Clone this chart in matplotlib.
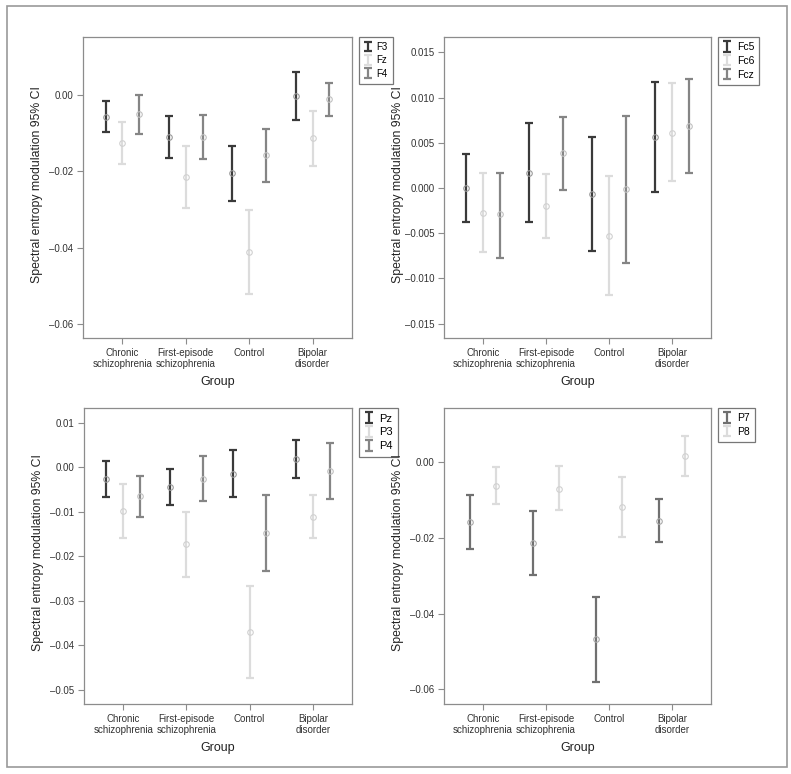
import matplotlib
matplotlib.use('Agg')
import matplotlib.pyplot as plt
from matplotlib.patches import Rectangle
from matplotlib import font_manager

# fuente angosta para los ticks si existe
nombres = {f.name for f in font_manager.fontManager.ttflist}
FUENTE_TICK = 'Liberation Sans Narrow' if 'Liberation Sans Narrow' in nombres else 'Liberation Sans'
plt.rcParams['font.family'] = ['Liberation Sans', 'DejaVu Sans']

grupos = ['Chronic\nschizophrenia', 'First-episode\nschizophrenia', 'Control', 'Bipolar\ndisorder']

# --- Panel 1: F3, Fz, F4 (media, limite inferior, limite superior)
f3_media = [-0.0057, -0.0111, -0.0205, -0.0003]
f3_inf = [-0.0098, -0.0166, -0.0279, -0.0065]
f3_sup = [-0.0016, -0.0055, -0.0133, 0.0059]
fz_media = [-0.0127, -0.0216, -0.0412, -0.0114]
fz_inf = [-0.0181, -0.0295, -0.0521, -0.0185]
fz_sup = [-0.0072, -0.0135, -0.0301, -0.0042]
f4_media = [-0.0051, -0.0111, -0.0157, -0.0010]
f4_inf = [-0.0101, -0.0169, -0.0227, -0.0054]
f4_sup = [0.0000, -0.0052, -0.0089, 0.0032]

# --- Panel 2: Fc5, Fc6, Fcz
fc5_media = [0.0000, 0.0017, -0.0007, 0.0056]
fc5_inf = [-0.0038, -0.0038, -0.0070, -0.0004]
fc5_sup = [0.0038, 0.0072, 0.0056, 0.0117]
fc6_media = [-0.0028, -0.0020, -0.0053, 0.0061]
fc6_inf = [-0.0071, -0.0055, -0.0118, 0.0008]
fc6_sup = [0.0016, 0.0015, 0.0013, 0.0116]
fcz_media = [-0.0029, 0.0039, -0.0001, 0.0069]
fcz_inf = [-0.0077, -0.0002, -0.0083, 0.0016]
fcz_sup = [0.0017, 0.0079, 0.0080, 0.0120]

# --- Panel 3: Pz, P3, P4
pz_media = [-0.0026, -0.0044, -0.0015, 0.0018]
pz_inf = [-0.0066, -0.0085, -0.0068, -0.0024]
pz_sup = [0.0015, -0.0003, 0.0039, 0.0060]
p3_media = [-0.0098, -0.0173, -0.0370, -0.0111]
p3_inf = [-0.0158, -0.0246, -0.0473, -0.0158]
p3_sup = [-0.0038, -0.0101, -0.0266, -0.0063]
p4_media = [-0.0065, -0.0026, -0.0148, -0.0008]
p4_inf = [-0.0111, -0.0077, -0.0233, -0.0071]
p4_sup = [-0.0019, 0.0025, -0.0062, 0.0054]

# --- Panel 4: P7, P8
p7_media = [-0.0158, -0.0213, -0.0468, -0.0155]
p7_inf = [-0.0229, -0.0298, -0.0582, -0.0212]
p7_sup = [-0.0086, -0.0130, -0.0355, -0.0097]
p8_media = [-0.0062, -0.0070, -0.0119, 0.0016]
p8_inf = [-0.0110, -0.0127, -0.0198, -0.0036]
p8_sup = [-0.0014, -0.0011, -0.0039, 0.0069]

OSCURO = '#3a3a3a'
CLARO = '#dcdcdc'
MEDIO = '#858585'
MEDIO2 = '#707070'
BORDE = '#8c8c8c'

W, H = 791, 774
fig = plt.figure(figsize=(W / 100, H / 100), dpi=100)


def caja(izq, der, arr, aba):
    return [izq / W, 1 - aba / H, (der - izq) / W, (aba - arr) / H]


def panel(pos, series, ylim, yticks, yfmt, desplaz, tam_leg=7.5):
    ax = fig.add_axes(caja(*pos))
    ancho = pos[1] - pos[0]
    n = len(series)
    for k, (nombre, media, inf, sup, color, cmark) in enumerate(series):
        dx = (k - (n - 1) / 2) * desplaz
        xs = [i + dx for i in range(len(media))]
        err = [[m - a for m, a in zip(media, inf)], [b - m for m, b in zip(media, sup)]]
        ax.errorbar(xs, media, yerr=err, fmt='none', ecolor=color,
                    elinewidth=1.6, capsize=3, capthick=1.6)
        ax.plot(xs, media, 'o', ms=4, mfc='none', mec=cmark, mew=0.8)
        ax.errorbar([float('nan')], [float('nan')], yerr=[1], fmt='none', ecolor=color,
                    elinewidth=1.6, capsize=3, capthick=1.6, label=nombre)
    ax.set_xlim(-0.62, 3.62)
    ax.set_ylim(*ylim)
    ax.set_yticks(yticks)
    ax.set_yticklabels([yfmt.format(v).replace('-', '\u2013') for v in yticks],
                       fontsize=7, family=FUENTE_TICK)
    ax.set_xticks(range(4))
    ax.set_xticklabels(grupos, fontsize=7, family=FUENTE_TICK, linespacing=1.15)
    ax.tick_params(direction='out', length=4, width=0.8, color=BORDE, pad=3, labelcolor='#333333')
    for s in ax.spines.values():
        s.set_color(BORDE)
        s.set_linewidth(0.9)
    ax.set_xlabel('Group', fontsize=9, color='#222222', labelpad=5)
    ax.set_ylabel('Spectral entropy modulation 95% CI', fontsize=8.8, color='#222222')
    ax.yaxis.set_label_coords(-40 / ancho, 0.51)
    leg = ax.legend(loc='upper left', bbox_to_anchor=(1.026, 1.0), borderaxespad=0,
                    handlelength=0.8, handletextpad=0.5, labelspacing=0.35,
                    borderpad=0.5, fancybox=False, prop={'family': FUENTE_TICK, 'size': tam_leg})
    leg.get_frame().set_edgecolor('#555555')
    leg.get_frame().set_linewidth(0.9)
    return ax


panel((83, 352, 37, 338),
      [('F3', f3_media, f3_inf, f3_sup, OSCURO, '#9a9a9a'),
       ('Fz', fz_media, fz_inf, fz_sup, CLARO, '#d0d0d0'),
       ('F4', f4_media, f4_inf, f4_sup, MEDIO, '#c0c0c0')],
      (-0.0637, 0.0152), [0.0, -0.02, -0.04, -0.06], '{:.2f}', 0.265, 7)

panel((444, 711, 37, 338),
      [('Fc5', fc5_media, fc5_inf, fc5_sup, OSCURO, '#9a9a9a'),
       ('Fc6', fc6_media, fc6_inf, fc6_sup, CLARO, '#d0d0d0'),
       ('Fcz', fcz_media, fcz_inf, fcz_sup, MEDIO, '#c0c0c0')],
      (-0.0166, 0.0167), [0.015, 0.010, 0.005, 0.0, -0.005, -0.010, -0.015], '{:.3f}', 0.27)

panel((84, 352, 408, 704),
      [('Pz', pz_media, pz_inf, pz_sup, OSCURO, '#9a9a9a'),
       ('P3', p3_media, p3_inf, p3_sup, CLARO, '#d0d0d0'),
       ('P4', p4_media, p4_inf, p4_sup, MEDIO, '#c0c0c0')],
      (-0.0532, 0.0133), [0.01, 0.0, -0.01, -0.02, -0.03, -0.04, -0.05], '{:.2f}', 0.265, 8)

panel((444, 711, 408, 704),
      [('P7', p7_media, p7_inf, p7_sup, MEDIO2, '#aaaaaa'),
       ('P8', p8_media, p8_inf, p8_sup, CLARO, '#d0d0d0')],
      (-0.0639, 0.0143), [0.0, -0.02, -0.04, -0.06], '{:.2f}', 0.4)

# marco exterior
fig.patches.append(Rectangle((7 / W, 1 - 767 / H), 780 / W, 761 / H, transform=fig.transFigure,
                             fill=False, edgecolor='#999999', linewidth=1.2))

plt.savefig('out.png', dpi=100)
plt.close()
